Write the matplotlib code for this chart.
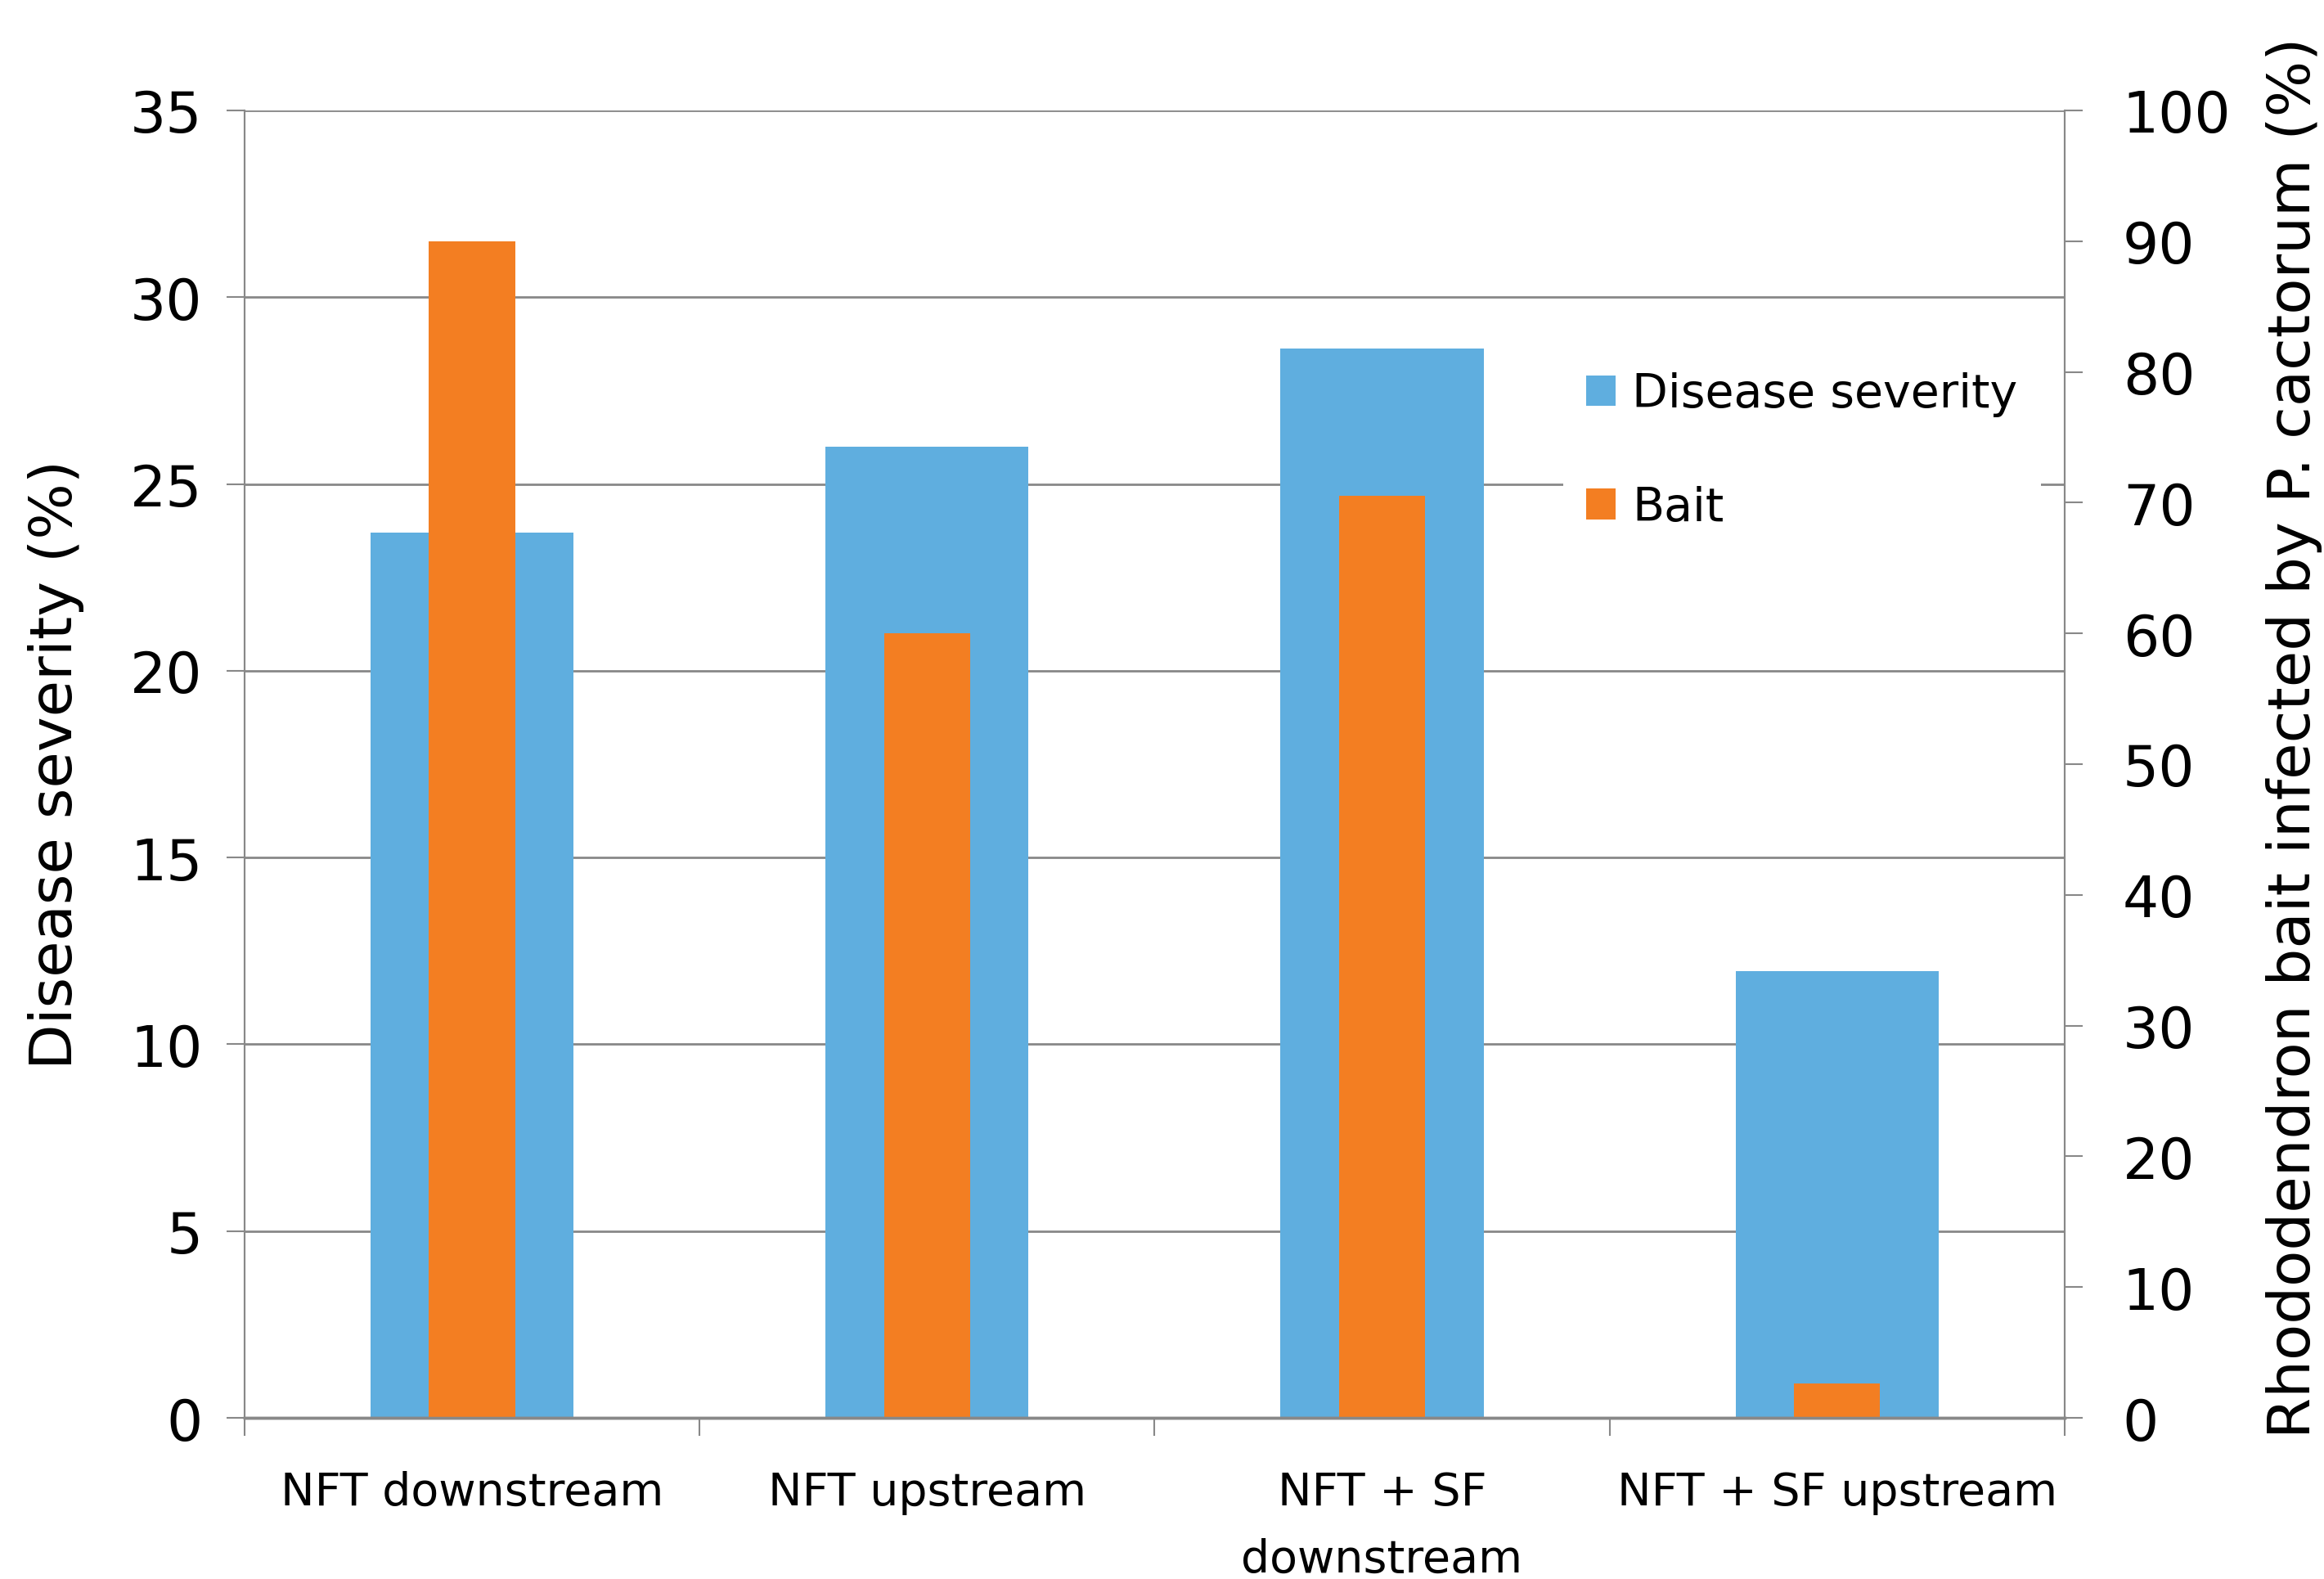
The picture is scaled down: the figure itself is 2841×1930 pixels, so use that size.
'''
Disease severity vs bait infection, bar chart with two y axes
'''

import matplotlib
matplotlib.use('Agg')
import matplotlib.pyplot as plt
import numpy as np

# Data
categories = ['NFT downstream', 'NFT upstream', 'NFT + SF\ndownstream', 'NFT + SF upstream']
severity = [23.7, 26.0, 28.63, 11.95]   # left axis, %
bait = [90.0, 60.0, 70.5, 2.6]          # right axis, %
left_ticks = [0, 5, 10, 15, 20, 25, 30, 35]
right_ticks = [0, 10, 20, 30, 40, 50, 60, 70, 80, 90, 100]

blue = '#5FAEDF'
orange = '#F37E22'
grey = '#888888'

plt.rcParams['font.family'] = ['DejaVu Sans']

fig = plt.figure(figsize=(28.41, 19.31), dpi=100)
ax = fig.add_axes([0.1052, 0.102, 0.7832, 0.8276])
ax2 = ax.twinx()

x = np.arange(len(categories))

# blue bars on left axis, orange on right axis (drawn on top)
ax.bar(x, severity, width=0.446, color=blue, zorder=2, label='Disease severity')
ax2.bar(x, bait, width=0.189, color=orange, zorder=2, label='Bait')

ax.set_xlim(-0.5, len(categories) - 0.5)
ax.set_ylim(0, 35)
ax2.set_ylim(0, 100)

# grid on left axis
ax.set_axisbelow(True)
ax.set_yticks(left_ticks)
ax.yaxis.grid(True, color=grey, linewidth=2.0)
ax2.set_yticks(right_ticks)

# x ticks: marks at category edges, labels at centres
ax.set_xticks(np.arange(-0.5, len(categories), 1.0))
ax.set_xticklabels([])
ax.set_xticks(x, minor=True)
ax.set_xticklabels(categories, minor=True, fontsize=40, linespacing=1.66,
                   ha='center')
ax.tick_params(axis='x', which='major', direction='out', length=16,
               width=1.5, color=grey)
ax.tick_params(axis='x', which='minor', length=0, pad=46)

ax.tick_params(axis='y', direction='out', length=16, width=1.5, color=grey,
               labelsize=50, pad=21)
ax2.tick_params(axis='y', direction='out', length=16, width=1.5, color=grey,
                labelsize=50, pad=35)

for a in (ax, ax2):
    a.spines['top'].set_visible(False)
    a.spines['left'].set_color(grey)
    a.spines['right'].set_color(grey)
    a.spines['left'].set_linewidth(1.5)
    a.spines['right'].set_linewidth(1.5)
    a.spines['bottom'].set_color(grey)
    a.spines['bottom'].set_linewidth(2.5)

ax.set_ylabel('Disease severity (%)', fontsize=52)
ax.yaxis.set_label_coords(-0.0879, 0.5)
ax2.set_ylabel('Rhododendron bait infected by P. cactorum (%)', fontsize=52)
ax2.yaxis.set_label_coords(1.1107, 0.521)

# legend
h1, l1 = ax.get_legend_handles_labels()
h2, l2 = ax2.get_legend_handles_labels()
leg = ax2.legend(h1 + h2, l1 + l2, loc='upper left',
                 bbox_to_anchor=(0.6726, 0.779), bbox_transform=fig.transFigure,
                 fontsize=41, frameon=True, facecolor='white', edgecolor='none',
                 framealpha=1.0, fancybox=False, borderaxespad=0, borderpad=0.5,
                 handlelength=0.63, handleheight=0.63, handletextpad=0.35,
                 labelspacing=1.47)

fig.savefig('out.png', dpi=100)
